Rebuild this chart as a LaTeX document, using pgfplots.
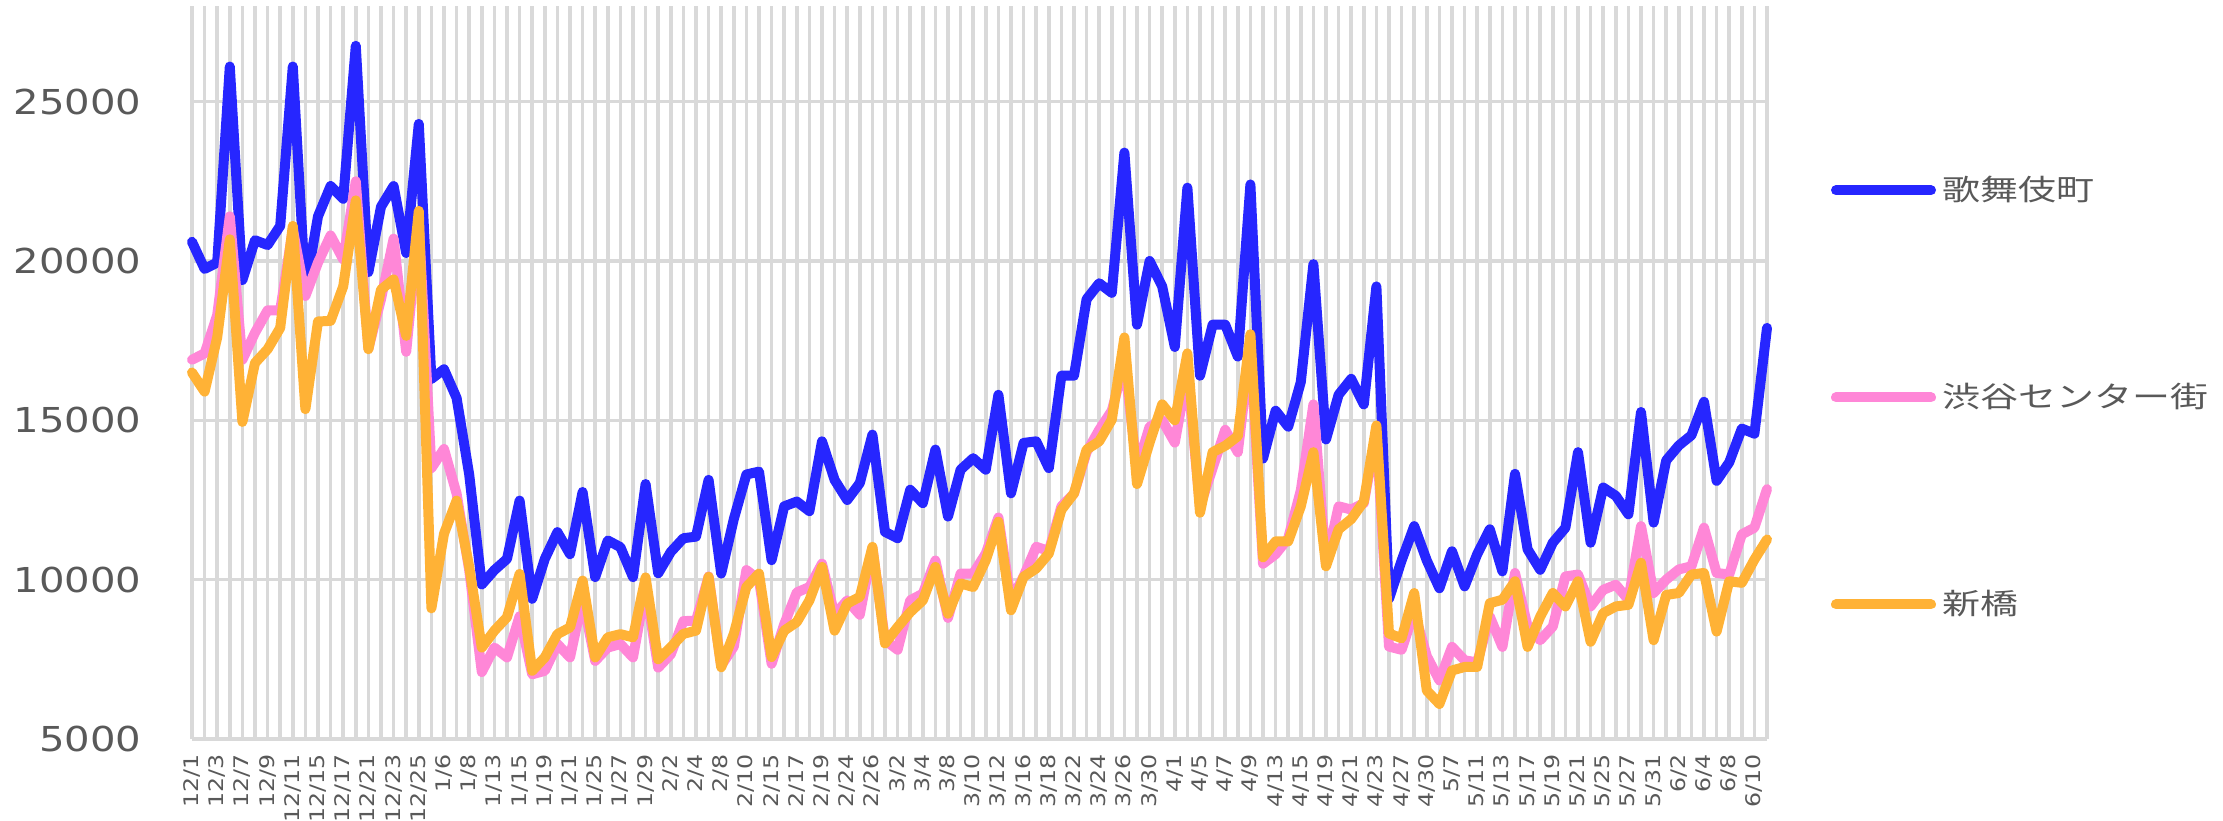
\documentclass[border=0pt]{standalone}
\usepackage{pgfplots}
\pgfplotsset{compat=1.18}
\usepackage{pgfplotstable}
\usepackage{graphicx}
\usepackage{fontspec}
\setmainfont{DejaVu Sans}
\newfontfamily\jp{Noto Sans CJK JP}
\definecolor{cblue}{RGB}{38,38,255}
\definecolor{cpink}{RGB}{255,135,215}
\definecolor{corange}{RGB}{255,178,54}
\definecolor{cgrid}{RGB}{217,217,217}
\definecolor{ctext}{RGB}{89,89,89}
\newcommand\yl[1]{\scalebox{1.17}[1]{#1}}
\newcommand\xl[1]{\scalebox{1}[0.85]{#1}}
\newcommand\lgd[1]{\scalebox{1.31}[1]{\jp #1}}

\pgfplotstableread{
i k s n
0 20600 16900 16500
1 19750 17100 15900
2 19950 18300 17600
3 26100 21400 20680
4 19400 16900 14950
5 20650 17750 16800
6 20500 18450 17230
7 21100 18450 17900
8 26100 21000 21100
9 19100 18900 15350
10 21400 19950 18100
11 22350 20800 18120
12 21950 20050 19200
13 26750 22500 21900
14 19650 17250 17230
15 21700 18800 19100
16 22350 20700 19420
17 20250 17150 17650
18 24300 21200 21570
19 16300 13500 9100
20 16600 14100 11440
21 15700 12700 12480
22 13300 10300 10400
23 9850 7100 7870
24 10300 7870 8400
25 10650 7560 8820
26 12480 8850 10180
27 9400 7030 7140
28 10650 7140 7560
29 11490 7980 8290
30 10800 7560 8500
31 12750 9400 9970
32 10080 7450 7560
33 11230 7870 8190
34 11020 7980 8290
35 10080 7560 8190
36 13000 9760 10070
37 10200 7240 7500
38 10870 7660 7880
39 11300 8700 8300
40 11350 8710 8400
41 13130 10100 10090
42 10190 7300 7250
43 11900 7900 8300
44 13300 10300 9770
45 13390 10000 10190
46 10610 7360 7570
47 12300 8600 8400
48 12450 9600 8670
49 12150 9770 9350
50 14340 10500 10400
51 13130 8900 8400
52 12500 9350 9250
53 13030 8900 9460
54 14550 11000 11030
55 11500 8100 8000
56 11300 7800 8510
57 12820 9350 8980
58 12400 9560 9350
59 14080 10600 10400
60 11980 8800 8930
61 13450 10190 9880
62 13810 10190 9770
63 13450 10820 10610
64 15800 11950 11820
65 12710 9350 9040
66 14290 10100 10090
67 14340 11030 10350
68 13500 10900 10820
69 16400 12300 12190
70 16400 12700 12710
71 18800 14000 14080
72 19300 14700 14340
73 19000 15300 15020
74 23400 16800 17600
75 18000 13500 13000
76 20000 14800 14300
77 19200 15000 15500
78 17300 14300 15000
79 22300 16500 17100
80 16400 12300 12100
81 18000 13500 14000
82 18000 14700 14200
83 17000 14000 14500
84 22400 17300 17700
85 13800 10500 10700
86 15300 10800 11200
87 14800 11300 11200
88 16200 12800 12300
89 19900 15500 14000
90 14400 10500 10420
91 15800 12300 11580
92 16300 12200 11900
93 15500 12400 12450
94 19200 14600 14840
95 9400 7900 8310
96 10600 7800 8160
97 11680 9000 9580
98 10600 7600 6520
99 9730 6840 6100
100 10890 7890 7150
101 9790 7470 7260
102 10800 7400 7260
103 11580 8840 9260
104 10260 7890 9370
105 13320 10210 9950
106 10950 8530 7890
107 10310 8100 8840
108 11160 8530 9580
109 11630 10100 9160
110 14000 10160 9950
111 11160 9160 8050
112 12890 9680 8950
113 12630 9840 9160
114 12050 9370 9210
115 15260 11680 10530
116 11790 9580 8100
117 13740 10000 9520
118 14210 10320 9580
119 14530 10420 10160
120 15580 11630 10210
121 13100 10210 8370
122 13680 10160 9950
123 14740 11420 9900
124 14580 11630 10630
125 17900 12840 11260
}\data

\begin{document}
\begin{tikzpicture}
\path[use as bounding box] (-57.6pt,-24.6pt) rectangle (609.3pt,221.7pt);
\begin{axis}[
  scale only axis,
  width=472.5pt, height=219.9pt,
  xmin=0, xmax=125, ymin=5000, ymax=28000,
  xtick={0,...,125},
  xticklabels={\xl{12/1},,\xl{12/3},,\xl{12/7},,\xl{12/9},,\xl{12/11},,\xl{12/15},,\xl{12/17},,\xl{12/21},,\xl{12/23},,\xl{12/25},,\xl{1/6},,\xl{1/8},,\xl{1/13},,\xl{1/15},,\xl{1/19},,\xl{1/21},,\xl{1/25},,\xl{1/27},,\xl{1/29},,\xl{2/2},,\xl{2/4},,\xl{2/8},,\xl{2/10},,\xl{2/15},,\xl{2/17},,\xl{2/19},,\xl{2/24},,\xl{2/26},,\xl{3/2},,\xl{3/4},,\xl{3/8},,\xl{3/10},,\xl{3/12},,\xl{3/16},,\xl{3/18},,\xl{3/22},,\xl{3/24},,\xl{3/26},,\xl{3/30},,\xl{4/1},,\xl{4/5},,\xl{4/7},,\xl{4/9},,\xl{4/13},,\xl{4/15},,\xl{4/19},,\xl{4/21},,\xl{4/23},,\xl{4/27},,\xl{4/30},,\xl{5/7},,\xl{5/11},,\xl{5/13},,\xl{5/17},,\xl{5/19},,\xl{5/21},,\xl{5/25},,\xl{5/27},,\xl{5/31},,\xl{6/2},,\xl{6/4},,\xl{6/8},,\xl{6/10},},
  ytick={5000,10000,15000,20000,25000},
  yticklabels={\yl{5000},\yl{10000},\yl{15000},\yl{20000},\yl{25000}},
  grid=major,
  major grid style={draw=cgrid, line width=1.05pt},
  axis line style={draw=none},
  major tick length=0pt,
  tick label style={text=ctext},
  yticklabel style={font=\fontsize{10.3}{12}\selectfont, inner sep=0pt},
  yticklabel shift=15pt,
  xticklabel style={font=\fontsize{7.1}{8}\selectfont, rotate=90, anchor=east, inner sep=0pt},
  xticklabel shift=4.5pt,
  clip=false,
  legend style={at={(1,1)}, anchor=north west, xshift=19pt, yshift=-48.7pt,
    draw=none, fill=none, font=\fontsize{8.7}{10}\selectfont, text=ctext,
    row sep=49.3pt, inner sep=0pt,
    /tikz/every even column/.append style={column sep=2pt}},
  legend cell align=left,
  legend image code/.code={\draw[#1, line width=3pt, line cap=round] (1.5pt,0pt) -- (30pt,0pt);},
  every axis plot/.append style={line width=3pt, line join=round, line cap=round, mark=none},
]
\addplot[cblue] table[x=i, y=k] {\data};
\addlegendentry{\lgd{歌舞伎町}}
\addplot[cpink] table[x=i, y=s] {\data};
\addlegendentry{\lgd{渋谷センター街}}
\addplot[corange] table[x=i, y=n] {\data};
\addlegendentry{\lgd{新橋}}
\end{axis}
\end{tikzpicture}
\end{document}
